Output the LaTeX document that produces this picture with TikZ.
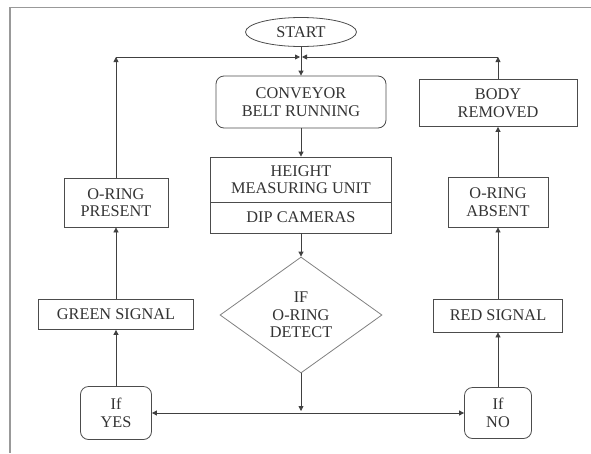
\documentclass[tikz,border=0pt]{standalone}
\usepackage{fontspec}
\setmainfont{Liberation Serif}
\usetikzlibrary{shapes.geometric,arrows.meta}
\begin{document}
\begin{tikzpicture}[x=1pt,y=-1pt,
  every node/.style={font=\fontsize{16.3}{17.5}\selectfont, text=black!80, align=center, inner sep=0pt},
  box/.style={draw=black!70, line width=0.8pt, rectangle},
  rbox/.style={box, rounded corners=8pt},
  arr/.style={draw=black!75, line width=0.8pt, -{Triangle[length=5pt,width=5pt]}},
  frame/.style={draw=black!40, line width=1.8pt}]
\useasboundingbox (0,0) rectangle (591,453);
% frame (top and left edges)
\draw[frame] (591,7.5) -- (10,7.5) -- (10,453);
% nodes
\node[draw=black!70, line width=0.8pt, ellipse, minimum width=111pt, minimum height=29pt] (start) at (301,32) {START};
\node[rbox, minimum width=170pt, minimum height=52pt] (conv) at (301,102) {CONVEYOR\\BELT RUNNING};
\node[box, minimum width=181pt, minimum height=45pt] (hmu) at (301,179.5) {HEIGHT\\MEASURING UNIT};
\node[box, minimum width=181pt, minimum height=31pt] (dip) at (301,217.5) {DIP CAMERAS};
\node[draw=black!50, line width=0.8pt, diamond, minimum width=162pt, minimum height=116pt] (dec) at (301,315) {IF\\O-RING\\DETECT};
\node[box, minimum width=158pt, minimum height=47pt] (body) at (498,103) {BODY\\REMOVED};
\node[box, minimum width=100pt, minimum height=50pt] (absent) at (498,202) {O-RING\\ABSENT};
\node[box, minimum width=129pt, minimum height=33pt] (red) at (498,315.5) {RED SIGNAL};
\node[rbox, minimum width=67pt, minimum height=51pt] (no) at (498,413) {If\\NO};
\node[box, minimum width=104pt, minimum height=49pt] (present) at (116,202.5) {O-RING\\PRESENT};
\node[box, minimum width=155pt, minimum height=30pt] (green) at (116,314.5) {GREEN SIGNAL};
\node[rbox, minimum width=71pt, minimum height=53pt] (yes) at (116,413) {If\\YES};
% junction coordinates
\coordinate (J) at (301,57);
\coordinate (cl) at (116,57);
\coordinate (cr) at (498,57);
\coordinate (B) at (301,413);
% connectors
\draw[arr] (start) -- (conv);
\draw[arr] (present) -- (cl);
\draw[arr, shorten >=1pt] (cl) -- (J);
\draw[arr] (body) -- (cr);
\draw[arr, shorten >=1pt] (cr) -- (J);
\draw[arr] (conv) -- (hmu);
\draw[arr] (dip) -- (dec);
\draw[arr, shorten >=2pt] (dec) -- (B);
\draw[arr] (B) -- (yes);
\draw[arr] (B) -- (no);
\draw[arr] (yes) -- (green);
\draw[arr] (green) -- (present);
\draw[arr] (no) -- (red);
\draw[arr] (red) -- (absent);
\draw[arr] (absent) -- (body);
\end{tikzpicture}
\end{document}
